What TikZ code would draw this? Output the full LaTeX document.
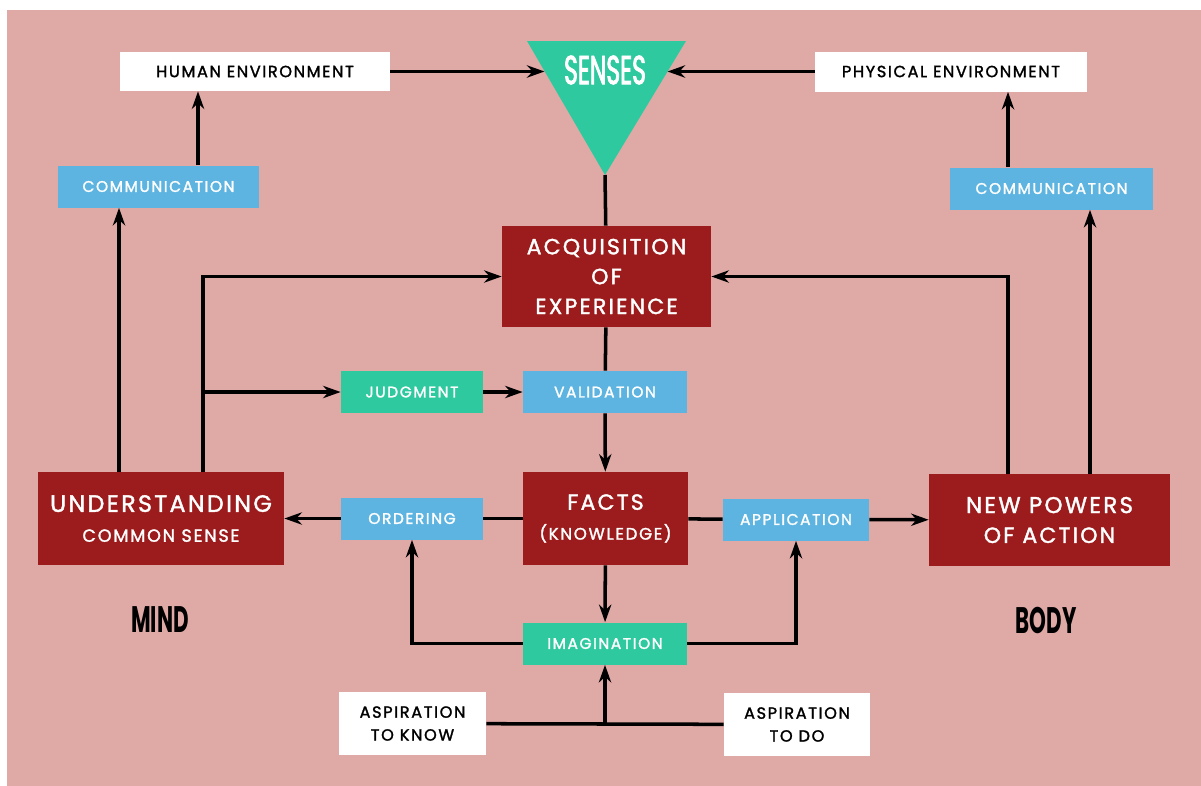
\documentclass[tikz,border=0pt]{standalone}
\usepackage{fontspec}
\setmainfont{Poppins}
\newfontfamily\labelfont[LetterSpace=10,FakeBold=1.6]{Poppins}
\newfontfamily\headfont[FakeStretch=0.58]{Poppins}
\usepackage{tikz}
\usetikzlibrary{arrows.meta}
\definecolor{paper}{HTML}{DFA9A6}
\definecolor{darkred}{HTML}{9C1C1D}
\definecolor{skyblue}{HTML}{5DB4E0}
\definecolor{seagreen}{HTML}{2FC99F}
\tikzstyle{arrow} = [line width=2pt,-{Stealth[length=10pt,width=7pt]}]
\tikzstyle{link} = [line width=2pt]

\begin{document}
\begin{tikzpicture}[
		big/.style={fill=darkred, text=white, inner sep=0pt, align=center, font=\labelfont\fontsize{12.5}{17}\selectfont},
		blue/.style={fill=skyblue, text=white, inner sep=0pt, minimum height=0.84cm, font=\labelfont\fontsize{8.8}{10}\selectfont},
		green/.style={fill=seagreen, text=white, inner sep=0pt, minimum height=0.84cm, font=\labelfont\fontsize{8.8}{10}\selectfont},
		white/.style={fill=white, text=black, inner sep=0pt, align=center, font=\labelfont\fontsize{9.2}{13}\selectfont},
		side/.style={font=\headfont\bfseries\fontsize{21}{22}\selectfont}
		]
		
		\useasboundingbox (0,0) rectangle (24.02,-15.70);
		\fill[paper] (0.14,-0.19) rectangle (24.10,-15.80);
		
		% senses
		\fill[seagreen] (10.54,-0.82) -- (13.72,-0.82) -- (12.10,-3.50) -- cycle;
		\node (senses) at (12.10,-1.40) [text=white, font=\headfont\fontsize{23}{23}\selectfont] {\addfontfeature{FakeBold=2}SENSES};
		\coordinate (sensesL) at (10.89,-1.43);
		\coordinate (sensesR) at (13.35,-1.43);
		\coordinate (sensesTip) at (12.10,-3.50);
		
		\node (humanEnv) at (5.10,-1.43) [white, minimum width=5.40cm, minimum height=0.78cm] {HUMAN ENVIRONMENT};
		\node (physEnv) at (19.02,-1.43) [white, minimum width=5.44cm, minimum height=0.80cm] {PHYSICAL ENVIRONMENT};
		\node (commL) at (3.17,-3.73) [blue, minimum width=4.02cm] {COMMUNICATION};
		\node (commR) at (21.03,-3.77) [blue, minimum width=4.06cm] {COMMUNICATION};
		\node (acq) at (12.13,-5.53) [big, minimum width=4.18cm, minimum height=2.02cm] {ACQUISITION\\ OF\\ EXPERIENCE};
		\node (judgment) at (8.24,-7.84) [green, minimum width=2.84cm] {JUDGMENT};
		\node (validation) at (12.10,-7.84) [blue, minimum width=3.28cm] {VALIDATION};
		\node (understanding) at (3.22,-10.37) [big, minimum width=4.92cm, minimum height=1.86cm] {\fontsize{13.5}{21}\selectfont UNDERSTANDING\\ \fontsize{10}{12}\selectfont COMMON SENSE};
		\node (ordering) at (8.24,-10.37) [blue, minimum width=2.84cm] {ORDERING};
		\node (facts) at (12.11,-10.37) [big, minimum width=3.30cm, minimum height=1.86cm] {FACTS\\ \fontsize{9.5}{12}\selectfont (KNOWLEDGE)};
		\node (application) at (15.92,-10.39) [blue, minimum width=2.92cm] {APPLICATION};
		\node (newPowers) at (20.99,-10.40) [big, minimum width=4.82cm, minimum height=1.84cm] {\fontsize{13}{16}\selectfont NEW POWERS\\ OF ACTION};
		\node (mind) at (3.20,-12.40) [side] {MIND};
		\node (body) at (20.92,-12.40) [side] {BODY};
		\node (imagination) at (12.10,-12.87) [green, minimum width=3.28cm] {IMAGINATION};
		\node (aspKnow) at (8.25,-14.47) [white, minimum width=2.94cm, minimum height=1.26cm] {ASPIRATION\\ TO KNOW};
		\node (aspDo) at (15.94,-14.49) [white, minimum width=2.92cm, minimum height=1.26cm] {ASPIRATION\\ TO DO};
		
		\coordinate (splitL) at (4.06,-7.84);
		\coordinate (join) at (12.10,-14.48);
		
		\draw[arrow] (humanEnv) -- (sensesL);
		\draw[arrow] (physEnv) -- (sensesR);
		\draw[link] (sensesTip) -- (acq);
		\draw[arrow] (commL.north -| 3.96,0) -- (humanEnv.south -| 3.96,0);
		\draw[arrow] (commR.north -| 20.16,0) -- (physEnv.south -| 20.16,0);
		\draw[arrow] (understanding.north -| 2.38,0) -- (commL.south -| 2.38,0);
		\draw[arrow] (understanding.north -| 4.06,0) |- (acq.west);
		\draw[arrow] (splitL) -- (judgment);
		\draw[arrow] (newPowers.north -| 20.16,0) |- (acq.east);
		\draw[arrow] (newPowers.north -| 21.80,0) -- (commR.south -| 21.80,0);
		\draw[link] (acq) -- (validation);
		\draw[arrow] (judgment) -- (validation);
		\draw[arrow] (validation) -- (facts);
		\draw[link] (facts) -- (ordering);
		\draw[arrow] (ordering) -- (understanding);
		\draw[link] (facts) -- (application);
		\draw[arrow] (application) -- (newPowers);
		\draw[arrow] (facts) -- (imagination);
		\draw[arrow] (imagination) -| (ordering);
		\draw[arrow] (imagination) -| (application);
		\draw[link] (aspKnow) -- (aspDo);
		\draw[arrow] (join) -- (imagination);
	\end{tikzpicture}
\end{document}
